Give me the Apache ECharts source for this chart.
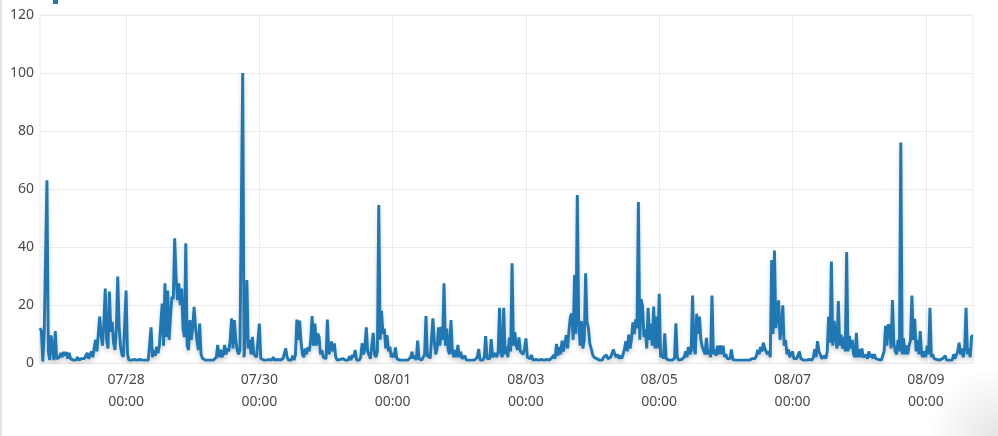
<!DOCTYPE html>
<html>
<head>
<meta charset="utf-8">
<script src="https://cdn.jsdelivr.net/npm/echarts@6/dist/echarts.min.js"></script>
<style>
  html, body { margin: 0; padding: 0; background: #fff; }
  #wrap { position: relative; width: 998px; height: 436px; overflow: hidden;
          background: radial-gradient(circle at 100% 100%, rgba(0,0,0,0.10), rgba(0,0,0,0) 70px); }
  #edge { position: absolute; left: 0; top: 0; width: 2px; height: 436px; background: #e4e4e4; }
  #chart { position: absolute; left: 0; top: 0; width: 998px; height: 436px; }
</style>
</head>
<body>
<div id="wrap"><div id="edge"></div><div id="chart"></div></div>
<script>
// Half-hourly series starting 07/26 17:00, ending 08/09 17:00
var startTime = Date.UTC(2024, 6, 26, 17, 0);
var stepMinutes = 30;
var tickLabels = ['07/28', '07/30', '08/01', '08/03', '08/05', '08/07', '08/09'];
var yTicks = [0, 20, 40, 60, 80, 100, 120];
var values = [
  12, 11, 0.5, 9.5, 9, 63, 4, 1, 9.5, 10,
  1, 11, 1.5, 1, 2, 3.5, 2, 3.8, 2.5, 3.8,
  1.5, 3.5, 1.5, 1, 1, 1.2, 1, 2, 1, 1,
  1.5, 1, 1.5, 2.5, 3.5, 1.5, 2, 4, 2, 5,
  8, 4, 10, 16, 9.6, 6, 13.6, 25.7, 7.9, 5,
  24.6, 10.8, 14.2, 7, 4.5, 12, 29.8, 12.5, 5.6, 3,
  2.1, 2, 25, 3.3, 1, 1, 1, 1, 1.2, 1,
  1, 1, 1.2, 1, 1, 1, 1, 1.2, 1, 1.5,
  12.3, 2, 4.5, 2.5, 5.6, 3.4, 6, 13.6, 20.5, 6,
  27.5, 9, 25, 8, 16, 22.8, 22, 43, 29.8, 21.7,
  27.5, 20, 25.7, 12, 9, 41.3, 6, 4.5, 14.8, 8,
  12.5, 19.4, 12.5, 7.9, 4.5, 13.6, 3, 1.6, 1, 1,
  1.2, 1, 1, 1, 1.2, 1, 1.5, 2, 6.2, 2,
  4.6, 2, 3, 6.2, 3, 5, 4, 8, 15.4, 5,
  14.8, 8, 4.5, 3, 4.5, 5, 100, 2, 10, 28.6,
  5, 8, 3, 9, 3, 3.3, 2, 1.5, 13.6, 1.6,
  1, 1, 1.6, 1, 1, 1.2, 1, 1, 2, 1,
  1, 1.2, 1, 1, 1, 1.5, 2, 5, 2, 1,
  1.5, 1, 2.5, 1, 3, 15, 8, 14.6, 7.4, 3,
  2, 5, 3, 5.4, 4, 8, 16.2, 6, 13.6, 6,
  10.2, 9, 3, 4.5, 2, 2.3, 1.5, 15, 3, 4.5,
  7.4, 4, 6.8, 2, 1, 1, 1.2, 1, 1.5, 1,
  1, 1.2, 1, 2.3, 1, 2.8, 2, 4.5, 1, 1.2,
  1, 2, 6.8, 3, 5, 12.3, 4, 3.4, 1.5, 2,
  10.4, 3, 2, 4, 54.5, 8, 18, 10, 11.9, 5,
  9.6, 4, 5.6, 2, 3.4, 2, 5.4, 1.5, 1.6, 1,
  1, 1, 1.2, 1, 1, 1, 1.5, 2, 3.9, 1.5,
  2.5, 1, 7.7, 1.5, 1, 1, 1.5, 3, 16.2, 2,
  3, 1.5, 8, 15.4, 7.4, 3, 5, 12.3, 6, 12.5,
  8, 27.5, 6, 11.9, 4.5, 3, 14.8, 4, 2, 4.5,
  2, 6.2, 2, 3.9, 1.5, 1.5, 2.5, 1, 1.6, 1,
  1, 1, 1.2, 1, 1, 2, 4.8, 1, 1.5, 1,
  2, 9.3, 1.5, 2, 1.5, 8.2, 2, 1.5, 3.4, 2,
  4, 19, 3, 2, 19, 3, 5.6, 2, 8.8, 4,
  34.4, 6, 10.6, 6, 4.5, 8.8, 4, 4.5, 3, 5,
  8.5, 2, 1.5, 1.5, 2.8, 1, 1, 1.2, 1, 1,
  1, 1.2, 1, 1, 1, 1.2, 1, 1, 1.5, 2,
  2.8, 1.5, 6.6, 2.5, 5.5, 3, 7.7, 4, 6.8, 9.6,
  5, 11.3, 15.9, 17, 8, 30.3, 10, 57.9, 14.8, 6,
  14.5, 5, 8, 30.9, 14.2, 12, 6.7, 5, 3, 2,
  1.5, 1.5, 1, 1, 1.5, 1, 2, 1.5, 2.8, 1.5,
  1, 2, 2.5, 4.7, 3, 2, 3, 1.5, 2.5, 1.5,
  3, 5, 7.5, 4, 9.8, 5, 8, 14, 10, 15,
  12, 55.5, 8, 22, 19.5, 9, 11.7, 5, 19, 8,
  13.6, 6, 19.5, 5, 16, 5, 23.9, 2, 3, 1.5,
  10.2, 1.5, 1, 1, 1.2, 1, 1, 1.5, 13.7, 2,
  1, 1, 1.2, 1, 2, 4, 2, 5.5, 3, 4,
  23.3, 5.5, 3, 17, 10, 16, 8, 5.5, 6, 3,
  8.7, 3, 4.7, 2, 23.3, 3, 4.7, 2.5, 6, 3,
  6, 3, 6, 2, 3, 1.5, 1.2, 1.5, 4.7, 1.2,
  1, 1, 1.2, 1, 1, 1, 1.2, 1, 1, 1,
  1.2, 1, 1, 1.5, 1, 1.5, 2.5, 4.5, 3, 5.5,
  4, 7, 5, 5, 3, 4, 2, 35.5, 10, 38.8,
  12, 17, 21.6, 8, 11.7, 19.9, 6, 8, 3, 4.7,
  2, 1.5, 4, 1.5, 1.2, 1.5, 1, 4, 1.5, 1,
  1, 1.2, 1, 1, 1.2, 1, 1, 2, 4.7, 2,
  7.5, 4, 3, 1.5, 1.5, 2.5, 1.5, 4, 16, 7,
  35, 6, 14.5, 9, 5, 21.4, 6, 9.8, 5, 9,
  4, 38.3, 4, 9.3, 5, 8, 3, 2, 10.4, 2,
  4.7, 2, 5, 2, 1.5, 2.8, 1.5, 4, 2, 3,
  1.5, 3, 1.5, 1, 1.2, 1, 1, 1.5, 4, 12.8,
  6, 13.3, 12.5, 5, 21.7, 6.8, 4, 3, 8, 4,
  76, 3, 8.5, 3, 6, 3, 6, 8, 23.3, 8,
  15.2, 4, 8, 3, 11, 3, 2, 4, 2, 6,
  3, 19, 2, 3, 1.5, 1, 1.2, 1, 1, 1.2,
  1.5, 1, 2.5, 1, 1.2, 1, 1.5, 1, 3, 1.5,
  2, 4, 7, 3, 5, 2, 5, 19, 3, 5,
  2, 9.3, 9.3
];

function pad(n) { return (n < 10 ? '0' : '') + n; }
var categories = [];
for (var k = 0; k < values.length; k++) {
  var d = new Date(startTime + k * stepMinutes * 60000);
  categories.push(pad(d.getUTCMonth() + 1) + '/' + pad(d.getUTCDate()) + ' ' + pad(d.getUTCHours()) + ':' + pad(d.getUTCMinutes()));
}
function isTick(idx, val) {
  var parts = String(val).split(' ');
  return parts[1] === '00:00' && tickLabels.indexOf(parts[0]) >= 0;
}

var chart = echarts.init(document.getElementById('chart'), null, { renderer: 'canvas' });
chart.setOption({
  animation: false,
  textStyle: { fontFamily: 'Noto Sans' },
  grid: { left: 40, right: 25, top: 15, bottom: 73, show: true, borderColor: '#ececec', borderWidth: 1 },
  graphic: [{ type: 'rect', left: 53, top: 0, shape: { width: 5, height: 4 }, style: { fill: '#1f77b4' } }],
  xAxis: {
    type: 'category',
    data: categories,
    boundaryGap: false,
    axisLine: { show: false },
    axisTick: { show: false },
    axisLabel: {
      interval: isTick,
      color: '#4a4a4a',
      fontSize: 14,
      lineHeight: 22,
      margin: 6,
      fontFamily: 'Noto Sans',
      formatter: function (v) { var p = v.split(' '); return p[0] + '\n' + p[1]; }
    },
    splitLine: { show: true, interval: isTick, lineStyle: { color: '#ececec', width: 1 } }
  },
  yAxis: {
    type: 'value',
    min: yTicks[0],
    max: yTicks[yTicks.length - 1],
    interval: yTicks[1] - yTicks[0],
    axisLine: { show: false },
    axisTick: { show: false },
    axisLabel: { color: '#4a4a4a', fontSize: 14, margin: 6, fontFamily: 'Noto Sans' },
    splitLine: { lineStyle: { color: '#ececec', width: 1 } }
  },
  series: [{
    type: 'line',
    data: values,
    showSymbol: false,
    symbol: 'none',
    lineStyle: { color: '#1f77b4', width: 2.9, shadowColor: 'rgba(0,0,0,0.18)', shadowBlur: 4, shadowOffsetY: 3 },
    itemStyle: { color: '#1f77b4' }
  }]
});
</script>
</body>
</html>
